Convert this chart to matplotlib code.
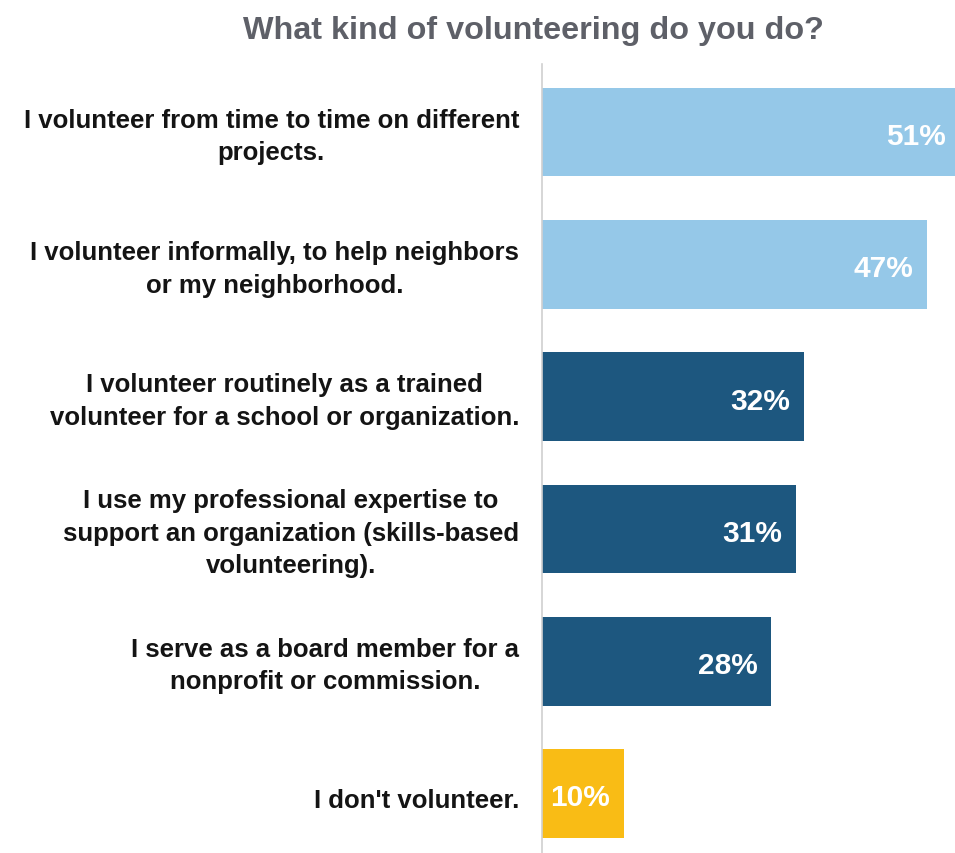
import matplotlib.pyplot as plt

plt.rcParams["font.family"] = ["Liberation Sans", "DejaVu Sans"]

# survey answers, top to bottom
labels = [
    "I volunteer from time to time on different\nprojects.",
    "I volunteer informally, to help neighbors\nor my neighborhood.",
    "I volunteer routinely as a trained\nvolunteer for a school or organization.",
    "I use my professional expertise to\nsupport an organization (skills-based\nvolunteering).",
    "I serve as a board member for a\nnonprofit or commission.",
    "I don't volunteer.",
]
values = [51, 47, 32, 31, 28, 10]
colors = ["#95C8E8", "#95C8E8", "#1D577F", "#1D577F", "#1D577F", "#F9BC15"]

fig = plt.figure(figsize=(9.55, 8.54), dpi=100)
ax = fig.add_axes([542 / 955, 0, 1 - 542 / 955, 1 - 65 / 854])

pos = list(range(len(values)))
ax.barh(pos, values, height=0.67, color=colors)

for p, v, lab in zip(pos, values, labels):
    ax.annotate(f"{v}%", xy=(v, p), xytext=(-14, -4), textcoords="offset pixels",
                ha="right", va="center", color="white", fontsize=21.5,
                fontweight="bold", annotation_clip=False)
    # single-line label sits a bit lower than the wrapped ones
    dy = -7 if "\n" not in lab else -4
    ax.annotate(lab, xy=(0, p), xytext=(-23, dy), textcoords="offset pixels",
                ha="right", va="center", multialignment="center",
                linespacing=1.45, fontsize=18.5, fontweight="bold",
                color="#141414", annotation_clip=False)

ax.set_xlim(0, 50.4)
ax.set_ylim(5.45, -0.515)
ax.set_yticks([])
ax.set_xticks([])

for s in ["top", "right", "bottom"]:
    ax.spines[s].set_visible(False)
ax.spines["left"].set_color("#D0D0D0")
ax.spines["left"].set_linewidth(1.2)

fig.text(533 / 955, 1 - 31 / 854, "What kind of volunteering do you do?",
         ha="center", va="center", fontsize=23.3, fontweight="bold", color="#5E6068")

fig.savefig("out.png", dpi=100)
